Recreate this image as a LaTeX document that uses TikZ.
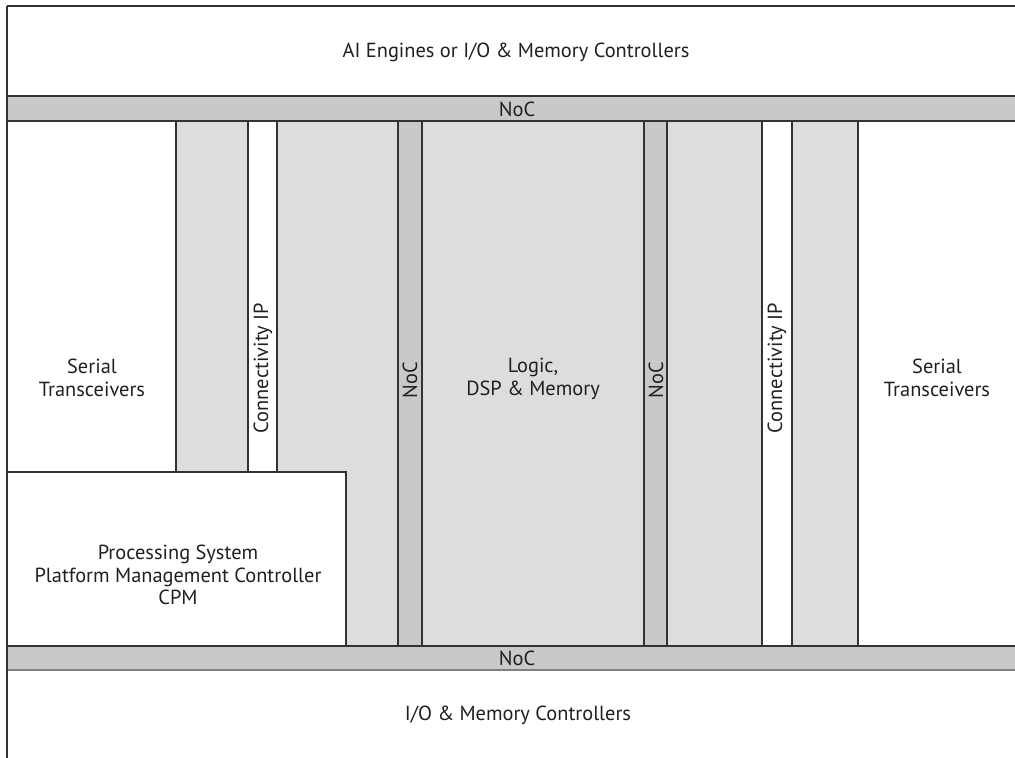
\documentclass[tikz,border=0pt]{standalone}
\usepackage{fontspec}
\setmainfont{PT Sans}
\definecolor{nocgray}{HTML}{C8C9CA}
\definecolor{logicgray}{HTML}{DCDDDF}
\definecolor{edgegray}{HTML}{333333}
\definecolor{ink}{HTML}{231F20}
\begin{document}
\begin{tikzpicture}[x=0.5pt, y=-0.5pt, every text node part/.style={align=center},
    lbl/.style={text=ink, inner sep=0pt, font=\fontsize{10.2}{11.3}\selectfont},
    blk/.style={draw=edgegray, line width=0.6pt},
    frame/.style={draw=edgegray, line width=1.1pt}]
    \useasboundingbox (0,0) rectangle (1015,758);

    \fill[white] (0,0) rectangle (1015,758);

    \path[blk, fill=logicgray] (176,121) rectangle (858,646);
    \path[blk, fill=white] (248,121) rectangle (277,472);
    \path[blk, fill=white] (762,121) rectangle (792,646);
    \path[blk, fill=white] (7,472) rectangle (346,646);
    \path[blk, fill=nocgray] (398,121) rectangle (422,646);
    \path[blk, fill=nocgray] (644,121) rectangle (667,646);

    \path[blk, fill=nocgray, line width=0.9pt] (7,96) rectangle (1020,121);
    \fill[nocgray] (7,646) rectangle (1020,670);
    \draw[blk, line width=0.9pt] (7,646) -- (1020,646);
    \draw[draw=gray, line width=0.9pt] (7,670) -- (1020,670);

    \draw[frame] (7,6) -- (1020,6);
    \draw[frame] (7,6) -- (7,760);

    \node[lbl] (aie) at (516,52) {AI Engines or I/O \& Memory Controllers};
    \node[lbl] (noctop) at (517,109) {NoC};
    \node[lbl] (nocbot) at (517,658) {NoC};
    \node[lbl] (gtl) at (92,378) {Serial\\Transceivers};
    \node[lbl] (gtr) at (937,378) {Serial\\Transceivers};
    \node[lbl, rotate=90] (cipl) at (263,368) {Connectivity IP};
    \node[lbl, rotate=90] (cipr) at (777,368) {Connectivity IP};
    \node[lbl, rotate=90] (nocl) at (410,380) {NoC};
    \node[lbl, rotate=90] (nocr) at (656,380) {NoC};
    \node[lbl] (logic) at (533,379) {Logic,\\DSP \& Memory};
    \node[lbl] (ps) at (178,575) {Processing System\\Platform Management Controller\\CPM};
    \node[lbl] (io) at (518,715) {I/O \& Memory Controllers};

\end{tikzpicture}
\end{document}
